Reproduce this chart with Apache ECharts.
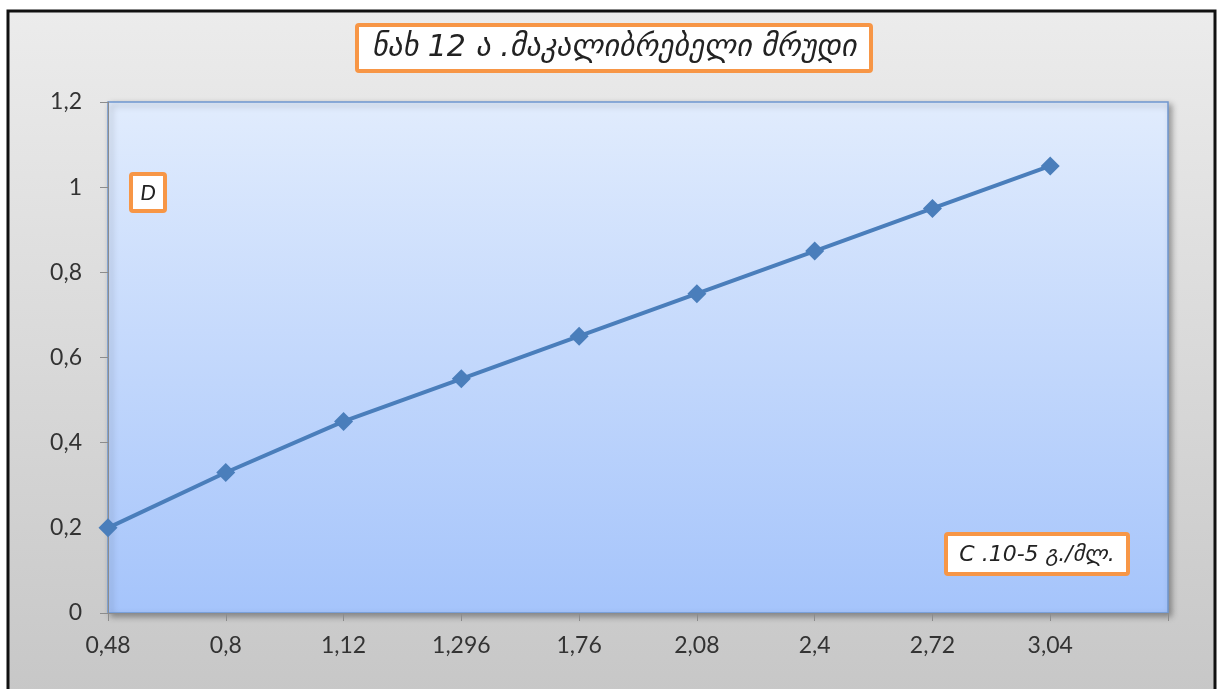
<!DOCTYPE html>
<html>
<head>
<meta charset="utf-8">
<script src="https://cdn.jsdelivr.net/npm/echarts@6/dist/echarts.min.js"></script>
<style>
html,body{margin:0;padding:0;background:#fff;}
#chart{width:1219px;height:689px;}
</style>
</head>
<body>
<div id="chart"></div>
<script>
var categories = ['0,48', '0,8', '1,12', '1,296', '1,76', '2,08', '2,4', '2,72', '3,04', ''];
var values = [0.2, 0.33, 0.45, 0.55, 0.65, 0.75, 0.85, 0.95, 1.05];
var yTicks = [0, 0.2, 0.4, 0.6, 0.8, 1, 1.2];
var titleText = 'ნახ 12 ა .მაკალიბრებელი მრუდი';
var yName = 'D';
var xName = 'C .10-5 გ./მლ.';

var chart = echarts.init(document.getElementById('chart'));
var labelFont = 'Lato, "Open Sans", sans-serif';
var geoFont = '"DejaVu Sans", "Noto Sans", sans-serif';
var orange = '#f79646';

chart.setOption({
  animation: false,
  grid: {
    left: 108, right: 51, top: 102, bottom: 76,
    show: true,
    backgroundColor: new echarts.graphic.LinearGradient(0, 0, 0, 1, [
      {offset: 0, color: '#e1ecfd'},
      {offset: 1, color: '#a5c4fb'}
    ]),
    borderColor: '#6f97cf',
    borderWidth: 1.5,
    shadowBlur: 6,
    shadowColor: 'rgba(0,0,0,0.35)',
    shadowOffsetX: 3,
    shadowOffsetY: 3
  },
  xAxis: {
    type: 'category',
    data: categories,
    boundaryGap: false,
    axisLine: {lineStyle: {color: '#8c8c8c', width: 1}},
    axisTick: {show: true, length: 8, lineStyle: {color: '#8c8c8c'}, alignWithLabel: true},
    axisLabel: {color: '#333', fontSize: 23, fontFamily: labelFont, margin: 21, interval: 0},
    splitLine: {show: false}
  },
  yAxis: {
    type: 'value',
    min: 0, max: 1.2, interval: 0.2,
    axisLine: {show: true, lineStyle: {color: '#8c8c8c', width: 1}},
    axisTick: {show: true, length: 8, lineStyle: {color: '#8c8c8c'}},
    axisLabel: {
      color: '#333', fontSize: 23, fontFamily: labelFont, margin: 26,
      formatter: function (v) {
        var t = yTicks.filter(function (x) { return Math.abs(x - v) < 1e-9; })[0];
        return String(t !== undefined ? t : v).replace('.', ',');
      }
    },
    splitLine: {show: false}
  },
  series: [{
    type: 'line',
    data: values,
    symbol: 'diamond',
    symbolSize: 19,
    lineStyle: {color: '#4a7ebb', width: 4},
    itemStyle: {color: '#4a7ebb'},
    z: 5
  }],
  graphic: [
    {
      type: 'rect', z: -10, silent: true,
      shape: {x: 0, y: 0, width: 1219, height: 689},
      style: {fill: '#ffffff'}
    },
    {
      type: 'rect', z: -9, silent: true,
      shape: {x: 8, y: 11, width: 1207, height: 700},
      style: {
        fill: new echarts.graphic.LinearGradient(0, 0, 0, 1, [
          {offset: 0, color: '#ececec'},
          {offset: 1, color: '#c6c6c6'}
        ]),
        stroke: '#111', lineWidth: 3
      }
    },
    {
      type: 'group', z: 100,
      children: [
        {type: 'rect', shape: {x: 357, y: 25, width: 514, height: 46, r: 2},
         style: {fill: '#fff', stroke: orange, lineWidth: 4}},
        {type: 'text', x: 614, y: 48,
         style: {text: titleText, fill: '#222', font: 'italic 30px ' + geoFont, align: 'center', verticalAlign: 'middle'}}
      ]
    },
    {
      type: 'group', z: 100,
      children: [
        {type: 'rect', shape: {x: 131, y: 174, width: 34, height: 37, r: 2},
         style: {fill: '#fff', stroke: orange, lineWidth: 4}},
        {type: 'text', x: 148, y: 193,
         style: {text: yName, fill: '#222', font: 'italic 22px ' + labelFont, align: 'center', verticalAlign: 'middle'}}
      ]
    },
    {
      type: 'group', z: 100,
      children: [
        {type: 'rect', shape: {x: 946, y: 534, width: 182, height: 40, r: 2},
         style: {fill: '#fff', stroke: orange, lineWidth: 4}},
        {type: 'text', x: 1037, y: 555,
         style: {text: xName, fill: '#222', font: 'italic 22px ' + geoFont, align: 'center', verticalAlign: 'middle'}}
      ]
    }
  ]
});
</script>
</body>
</html>
